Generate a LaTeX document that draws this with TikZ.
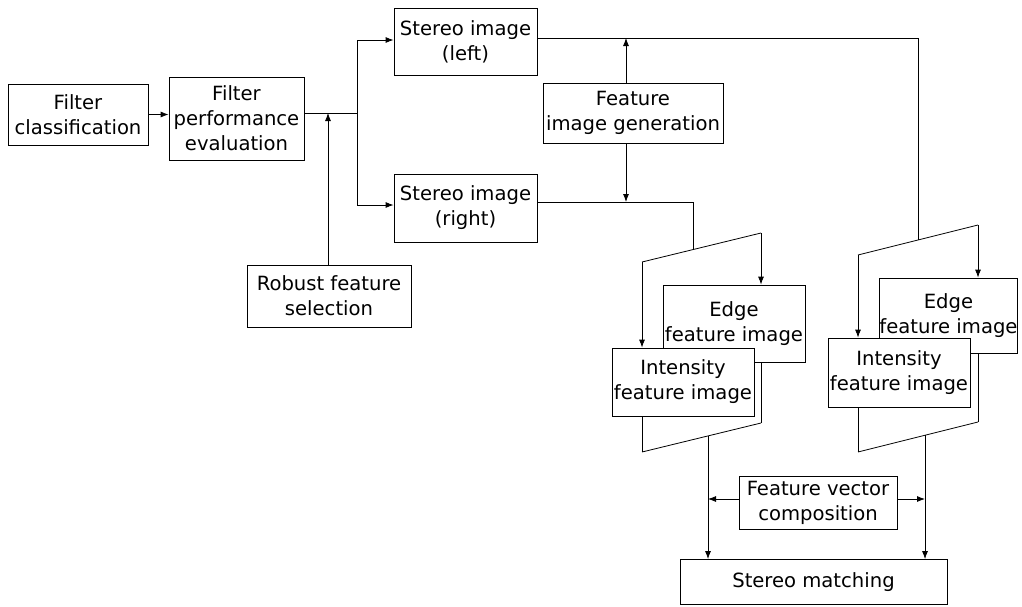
\documentclass[tikz,border=0pt]{standalone}
\usepackage{fontspec}
\setmainfont{DejaVu Sans}
\usetikzlibrary{arrows.meta,calc}
\begin{document}
\begin{tikzpicture}[x=1pt,y=-1pt,
  every path/.style={line width=0.8pt},
  box/.style={draw,fill=white,rectangle,inner sep=0pt,align=center,
    font=\fontsize{19.6}{25}\selectfont},
  arr/.style={-{Latex[length=8pt,width=6pt]}},
  flow/.style={draw}]
\path[use as bounding box] (0,0) rectangle (1022,606);

% left chain
\node[box,minimum width=140pt,minimum height=61pt] (fc)  at (78,114.5)  {Filter\\classification};
\node[box,minimum width=135pt,minimum height=83pt] (fpe) at (236.5,118.5) {Filter\\performance\\evaluation};
\node[box,minimum width=164pt,minimum height=62pt] (rfs) at (329,296)   {Robust feature\\selection};

% stereo pair and feature generation
\node[box,minimum width=143pt,minimum height=67pt] (sl)  at (465.5,41.5) {Stereo image\\(left)};
\node[box,minimum width=143pt,minimum height=68pt] (sr)  at (465.5,208)  {Stereo image\\(right)};
\node[box,minimum width=180pt,minimum height=60pt] (fig) at (633,113)    {Feature\\image generation};

% junction points
\coordinate (j1) at (357,113);
\coordinate (jt) at (357,40);
\coordinate (jb) at (357,205);
\coordinate (ja) at (328,113);
\coordinate (ltop) at (626,38);
\coordinate (lbot) at (626,202);

% left parallelogram
\coordinate (pL1) at (642,262);
\coordinate (pL2) at (761,233);
\coordinate (pL3) at (761,423);
\coordinate (pL4) at (642,452);
% right parallelogram
\coordinate (pR1) at (858,255);
\coordinate (pR2) at (978,225);
\coordinate (pR3) at (978,422);
\coordinate (pR4) at (858,452);

% inputs into the parallelograms
\coordinate (inL) at (693,249.6);
\coordinate (inR) at (918,240);
% outputs of the parallelograms
\coordinate (outL) at (708,435.9);
\coordinate (outR) at (925,435.25);

\draw[arr] (fc.east) -- (fc.east -| fpe.west);
\draw ([yshift=5.5pt]fpe.east) -- (j1);
\draw (jt) -- (jb);
\draw[arr] (jt) -- (jt -| sl.west);
\draw[arr] (jb) -- (jb -| sr.west);
\draw[arr] (rfs.north -| ja) -- (ja);

\draw ([yshift=3.5pt]sl.east) -| (inR);
\draw ([yshift=6pt]sr.east) -| (inL);
\draw[arr] (fig.north -| ltop) -- (ltop);
\draw[arr] (fig.south -| lbot) -- (lbot);

% left parallelogram edges
\draw (pL1) -- (pL2);
\draw (pL4) -- (pL3);
\node[box,minimum width=142pt,minimum height=77pt] (edgeL) at (734,323.5) {Edge\\feature image};
\draw[arr] (pL2) -- (pL2 |- edgeL.north);
\draw (pL2 |- edgeL.south) -- (pL3);
\node[box,minimum width=142pt,minimum height=68pt] (intL) at (683,382) {Intensity\\feature image};
\draw[arr] (pL1) -- (pL1 |- intL.north);
\draw (pL1 |- intL.south) -- (pL4);

% right parallelogram edges
\draw (pR1) -- (pR2);
\draw (pR4) -- (pR3);
\node[box,minimum width=137pt,minimum height=75pt] (edgeR) at (948.5,315.5) {Edge\\feature image};
\draw[arr] (pR2) -- (pR2 |- edgeR.north);
\draw (pR2 |- edgeR.south) -- (pR3);
\node[box,minimum width=142pt,minimum height=69pt] (intR) at (899,372.5) {Intensity\\feature image};
\draw[arr] (pR1) -- (pR1 |- intR.north);
\draw (pR1 |- intR.south) -- (pR4);

% composition and matching
\node[box,minimum width=158pt,minimum height=53pt] (fvc) at (818,502.5) {Feature vector\\composition};
\node[box,minimum width=267pt,minimum height=45pt] (sm)  at (813.5,582) {Stereo matching};
\draw[arr] (outL) -- (outL |- sm.north);
\draw[arr] (outR) -- (outR |- sm.north);
\draw[arr] ([yshift=3.5pt]fvc.west) -- ([yshift=3.5pt]fvc.west -| outL);
\draw[arr] ([yshift=3.5pt]fvc.east) -- ([yshift=3.5pt]fvc.east -| outR);
\end{tikzpicture}
\end{document}
